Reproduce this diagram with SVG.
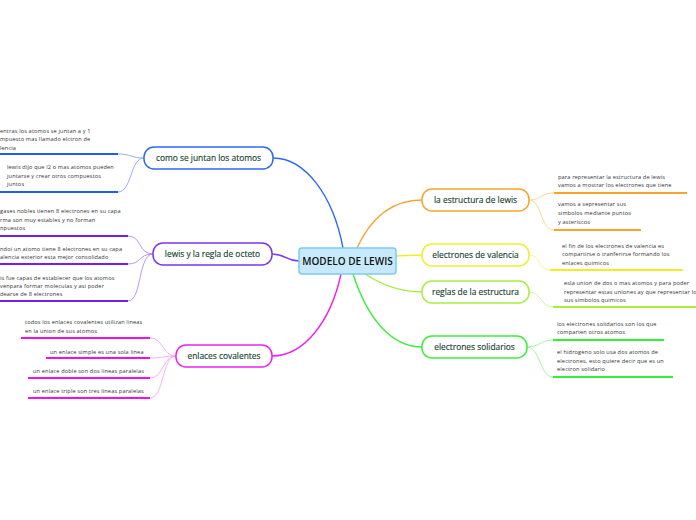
<svg xmlns="http://www.w3.org/2000/svg" width="696" height="520" viewBox="0 0 696 520">
<style>
.bg{fill:#ffffff}
.node rect{fill:#ffffff;stroke-width:1.5}
.nt{font-family:"Open Sans","Noto Sans",sans-serif;font-size:8.4px;fill:#163f30;text-anchor:middle;stroke:#163f30;stroke-width:0.15}
.st{font-family:"Open Sans","Noto Sans",sans-serif;font-size:5.6px;fill:#333333;letter-spacing:0.15px}
.main{fill:none;stroke-width:1.4}
.sub{fill:none;stroke-width:0.8}
.ul{stroke-width:2;fill:none}
</style>
<rect class="bg" x="0" y="0" width="696" height="520"/>
<g id="connectors">
<path class="main" stroke="#3068f2" d="M343,248 C333,195 305,158 273,158"/>
<path class="main" stroke="#7a34ee" d="M299,261 C286,261 286,254 272,254"/>
<path class="main" stroke="#ee22ee" d="M341,274 C331,320 305,356 272,356"/>
<path class="main" stroke="#f5a532" d="M357,248 C372,215 395,200 422,200"/>
<path class="main" stroke="#eeee30" d="M396,256 C405,256 410,255 422,255"/>
<path class="main" stroke="#a8ee40" d="M365,274 C385,287 402,292 422,292"/>
<path class="main" stroke="#3cee3c" d="M353,274 C368,320 392,347 422,347"/>
<path class="sub" stroke="#7a9cf5" d="M144,158 C130,158 132,154 118,154"/>
<path class="sub" stroke="#7a9cf5" d="M144,158 C130,158 132,192 118,192"/>
<path class="sub" stroke="#a77cf5" d="M153,254 C138,254 142,236 128,236"/>
<path class="sub" stroke="#a77cf5" d="M153,254 C138,254 142,264 128,264"/>
<path class="sub" stroke="#a77cf5" d="M153,254 C138,254 142,301 128,301"/>
<path class="sub" stroke="#f59cf5" d="M176,356 C162,356 164,338 150,338"/>
<path class="sub" stroke="#f59cf5" d="M176,356 C162,356 164,358 150,358"/>
<path class="sub" stroke="#f59cf5" d="M176,356 C162,356 164,378 150,378"/>
<path class="sub" stroke="#f59cf5" d="M176,356 C162,356 164,398 150,398"/>
<path class="sub" stroke="#f8cc80" d="M529,200 C542,200 540,193 554,193"/>
<path class="sub" stroke="#f8cc80" d="M529,200 C542,200 540,230 554,230"/>
<path class="sub" stroke="#f2f280" d="M529,255 C542,255 537,270 550,270"/>
<path class="sub" stroke="#c8f280" d="M529,292 C542,292 540,307 553,307"/>
<path class="sub" stroke="#8cf28c" d="M527,347 C540,347 540,340 553,340"/>
<path class="sub" stroke="#8cf28c" d="M527,347 C540,347 540,377 553,377"/>
<path class="ul" stroke="#1f5cf0" d="M0,154 H118 M0,192 H118"/>
<path class="ul" stroke="#7020ee" d="M0,236 H128 M0,264 H128 M0,301 H128"/>
<path class="ul" stroke="#ee11ee" d="M21,338 H150 M46,358 H150 M28,378 H150 M28,398 H150"/>
<path class="ul" stroke="#f5a52a" d="M554,193 H687 M554,230 H641"/>
<path class="ul" stroke="#eeee22" d="M550,270 H683"/>
<path class="ul" stroke="#a8ee3a" d="M553,307 H696"/>
<path class="ul" stroke="#33ee33" d="M553,340 H664 M553,377 H673"/>
</g>
<g id="center">
<rect x="299" y="248" width="97" height="26" rx="3" fill="#c6eafb" stroke="#7ccbf0" stroke-width="1.5"/>
<text x="347.5" y="265" font-family="'Open Sans','Noto Sans',sans-serif" font-size="10px" font-weight="600" fill="#111111" text-anchor="middle">MODELO DE LEWIS</text>
</g>
<g id="n-juntan" class="node"><rect x="144" y="147" width="129" height="22" rx="10" stroke="#3068f2"/><text class="nt" x="208.5" y="161">como se juntan los atomos</text></g>
<g id="n-octeto" class="node"><rect x="153" y="243" width="119" height="22" rx="10" stroke="#7a34ee"/><text class="nt" x="212.5" y="257">lewis y la regla de octeto</text></g>
<g id="n-covalentes" class="node"><rect x="176" y="345" width="96" height="22" rx="10" stroke="#ee22ee"/><text class="nt" x="224" y="359">enlaces covalentes</text></g>
<g id="n-estructura" class="node"><rect x="422" y="189" width="107" height="22" rx="10" stroke="#f5a532"/><text class="nt" x="475.5" y="203">la estructura de lewis</text></g>
<g id="n-valencia" class="node"><rect x="422" y="244" width="107" height="22" rx="10" stroke="#eeee30"/><text class="nt" x="475.5" y="258">electrones de valencia</text></g>
<g id="n-reglas" class="node"><rect x="422" y="281" width="107" height="22" rx="10" stroke="#a8ee40"/><text class="nt" x="475.5" y="295">reglas de la estructura</text></g>
<g id="n-solidarios" class="node"><rect x="422" y="336" width="105" height="22" rx="10" stroke="#3cee3c"/><text class="nt" x="474.5" y="350">electrones solidarios</text></g>
<g id="t-juntan-1"><text class="st" x="0" y="133">entras los atomos se juntan a y 1</text><text class="st" x="0" y="141">mpuesto mas llamado elctron de</text><text class="st" x="0" y="150">lencia</text></g>
<g id="t-juntan-2"><text class="st" x="7" y="169">lewis dijo que l2 o mas atomos pueden</text><text class="st" x="7" y="178">juntarse y crear otros compuestos</text><text class="st" x="7" y="186">juntos</text></g>
<g id="t-octeto-1"><text class="st" x="0" y="213">gases nobles tienen 8 electrones en su capa</text><text class="st" x="0" y="222">rma son muy estables y no forman</text><text class="st" x="0" y="230">npuestos</text></g>
<g id="t-octeto-2"><text class="st" x="0" y="251">ndoi un atomo tiene 8 electrones en su capa</text><text class="st" x="0" y="259">alencia exterior esta mejor consolidado</text></g>
<g id="t-octeto-3"><text class="st" x="0" y="280">is fue capas de establecer que los atomos</text><text class="st" x="0" y="288">venpara formar moleculas y asi poder</text><text class="st" x="0" y="296">dearse de 8 electrones</text></g>
<g id="t-cov-1"><text class="st" x="25" y="324">todos los enlaces covalentes utilizan lineas</text><text class="st" x="25" y="333">en la union de sus atomos</text></g>
<g id="t-cov-2"><text class="st" x="50" y="354">un enlace simple es una sola linea</text></g>
<g id="t-cov-3"><text class="st" x="33" y="373">un enlace doble son dos lineas paralelas</text></g>
<g id="t-cov-4"><text class="st" x="33" y="393">un enlace triple son tres lineas paralelas</text></g>
<g id="t-est-1"><text class="st" x="558" y="179">para representar la estructura de lewis</text><text class="st" x="558" y="187">vamos a mostrar los electrones que tiene</text></g>
<g id="t-est-2"><text class="st" x="558" y="206">vamos a sepresentar sus</text><text class="st" x="558" y="215">simbolos mediante puntos</text><text class="st" x="558" y="224">y asteriscos</text></g>
<g id="t-val-1"><text class="st" x="562" y="248">el fin de los electrones de valencia es</text><text class="st" x="562" y="256">compartirse o tranferirse formando los</text><text class="st" x="562" y="265">enlaces quimicos</text></g>
<g id="t-reg-1"><text class="st" x="564" y="285">esla union de dos o mas atomos y para poder</text><text class="st" x="564" y="294" letter-spacing="0">representar estas uniones ay que representar lo</text><text class="st" x="564" y="302">sus simbolos quimicos</text></g>
<g id="t-sol-1"><text class="st" x="557" y="326">los electrones solidarios son los que</text><text class="st" x="557" y="334">comparten otros atomos</text></g>
<g id="t-sol-2"><text class="st" x="557" y="354">el hidrogeno solo usa dos atomos de</text><text class="st" x="557" y="363">electrones, esto quiere decir que es un</text><text class="st" x="557" y="371">electron solidario</text></g>
</svg>
